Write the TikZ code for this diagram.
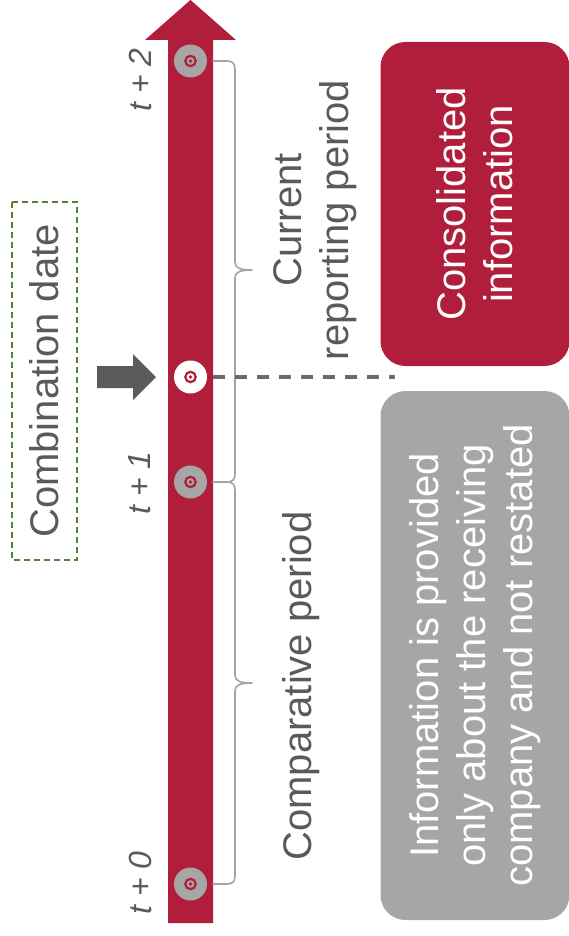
\documentclass[tikz,border=0pt]{standalone}
\usepackage{fontspec}
\setmainfont{Liberation Sans}
\definecolor{crim}{HTML}{B01E3B}
\definecolor{boxgray}{HTML}{A6A6A6}
\definecolor{txtgray}{HTML}{5A5A5A}
\definecolor{darrow}{HTML}{5A5B5D}
\definecolor{dashgray}{HTML}{6B6B6B}
\definecolor{olivegreen}{HTML}{548235}
\definecolor{bracegray}{HTML}{A3A3A3}

\begin{document}
\begin{tikzpicture}[x=1pt,y=-1pt,
  tick/.style={circle, inner sep=0pt, minimum size=33pt, fill=#1,
    path picture={
      \draw[crim, line width=2.2pt] (path picture bounding box.center) circle (5.2);
      \fill[crim] (path picture bounding box.center) circle (1.8);}},
  tlabel/.style={rotate=90, inner sep=0pt, text=txtgray,
    font=\fontsize{32}{38}\selectfont\itshape},
  bigtext/.style={rotate=90, inner sep=0pt, align=center,
    font=\fontsize{40}{47}\selectfont},
  infobox/.style={bigtext, rounded corners=25pt, text=white, minimum height=189pt},
  bracepath/.style={draw=bracegray, line width=1.6pt, line cap=round, line join=round}]

\useasboundingbox (0,0) rectangle (569,936);

% timeline arrow
\fill[crim] (168,923) -- (168,40) -- (145,40) -- (190.5,0) -- (236,40)
  -- (213,40) -- (213,923) -- cycle;

% braces: current reporting period (t+1 .. t+2) and comparative period (t+0 .. t+1)
\draw[bracepath] (213,61) -- (226,61) .. controls (233,61) and (235,63) .. (235,70)
  -- (235,262) .. controls (235,268) and (240,270) .. (252,270)
  .. controls (240,270) and (235,272) .. (235,278)
  -- (235,473) .. controls (235,480) and (233,482) .. (226,482) -- (213,482);
\draw[bracepath] (213,482) -- (226,482) .. controls (233,482) and (235,484) .. (235,491)
  -- (235,675) .. controls (235,681) and (240,683) .. (252,683)
  .. controls (240,683) and (235,685) .. (235,691)
  -- (235,875) .. controls (235,882) and (233,884) .. (226,884) -- (213,884);

% points in time
\node[tick=boxgray] (t2) at (190.5,61) {};
\node[tick=white] (tc) at (190.5,377) {};
\node[tick=boxgray] (t1) at (190.5,482) {};
\node[tick=boxgray] (t0) at (190.5,884) {};

% dashed separator from the combination date
\coordinate (dend) at (395,377);
\draw[dashgray, line width=3.5pt, dash pattern=on 12pt off 10pt, shorten <=6pt]
  (tc.east) -- (dend);

% pointer to the combination date
\fill[darrow] (97,366) -- (133,366) -- (133,354) -- (156,377) -- (133,400)
  -- (133,388) -- (97,388) -- cycle;

% labels
\node[bigtext, text=txtgray, draw=olivegreen, line width=1.2pt,
  dash pattern=on 6pt off 4pt, minimum width=358pt, minimum height=65pt]
  (cdate) at (44.5,381) {Combination date};

\node[tlabel] (l2) at (140,80) {t + 2};
\node[tlabel] (l1) at (140,483) {t + 1};
\node[tlabel] (l0) at (140,883) {t + 0};

\node[bigtext, text=txtgray] (cur) at (315,220) {Current\\reporting period};
\node[bigtext, text=txtgray] (comp) at (301,686) {Comparative period};

% information boxes
\node[infobox, fill=crim, minimum width=324pt] (cons) at (475,204)
  {Consolidated\\information};
\node[infobox, fill=boxgray, minimum width=529pt] (only) at (475,655.5)
  {Information is provided\\only about the receiving\\company and not restated};

\end{tikzpicture}
\end{document}
